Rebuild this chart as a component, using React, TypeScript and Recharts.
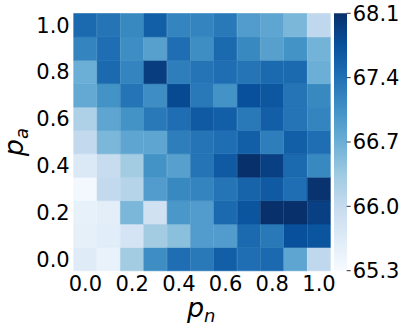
import { Bar, BarChart, Cell, Label, XAxis, YAxis } from "recharts";

// heatmap values, rows from p_a = 0.0 (bottom) up to p_a = 1.0 (top); columns p_n 0.0 .. 1.0
const pnLabels = ["0.0", "0.1", "0.2", "0.3", "0.4", "0.5", "0.6", "0.7", "0.8", "0.9", "1.0"];
const paLabels = ["0.0", "0.1", "0.2", "0.3", "0.4", "0.5", "0.6", "0.7", "0.8", "0.9", "1.0"];

const pa00 = [65.64, 65.50, 66.31, 67.09, 67.43, 67.32, 67.60, 67.43, 67.48, 66.81, 66.06];
const pa01 = [65.55, 65.61, 65.80, 66.31, 66.48, 66.92, 66.92, 67.48, 67.32, 67.76, 67.71];
const pa02 = [65.52, 65.58, 66.59, 65.86, 66.98, 66.92, 67.48, 67.71, 68.10, 68.10, 67.93];
const pa03 = [65.36, 66.03, 66.14, 66.92, 67.15, 67.20, 67.37, 67.54, 67.65, 67.43, 68.07];
const pa04 = [65.69, 65.97, 66.31, 67.04, 66.87, 67.37, 67.65, 68.10, 67.93, 67.48, 67.15];
const pa05 = [66.03, 66.59, 66.81, 66.81, 67.26, 67.37, 67.43, 67.60, 67.26, 67.60, 67.43];
const pa06 = [66.20, 66.81, 67.04, 67.32, 67.43, 67.65, 67.60, 67.32, 67.60, 67.37, 67.20];
const pa07 = [66.76, 67.04, 67.37, 67.09, 67.82, 67.32, 67.04, 67.76, 67.68, 67.37, 67.15];
const pa08 = [66.70, 67.48, 67.20, 67.96, 67.26, 67.37, 67.43, 67.37, 67.48, 67.48, 66.70];
const pa09 = [67.20, 67.43, 67.09, 66.87, 67.43, 67.09, 67.48, 67.15, 66.87, 67.04, 66.64];
const pa10 = [67.48, 67.37, 67.15, 67.60, 67.20, 67.20, 67.32, 66.92, 66.81, 66.59, 66.06];

const grid = [pa00, pa01, pa02, pa03, pa04, pa05, pa06, pa07, pa08, pa09, pa10];

const cbarTicks = [65.3, 66.0, 66.7, 67.4, 68.1];
const vmin = 65.3;
const vmax = 68.1;

// matplotlib "Blues"
const blues = ["#f7fbff", "#deebf7", "#c6dbef", "#9ecae1", "#6baed6", "#4292c6", "#2171b5", "#08519c", "#08306b"];

function hex(c: string) {
  return [1, 3, 5].map((i) => parseInt(c.slice(i, i + 2), 16));
}

function bluesColor(v: number) {
  let t = (v - vmin) / (vmax - vmin);
  t = Math.max(0, Math.min(1, t));
  const pos = t * (blues.length - 1);
  const i = Math.min(blues.length - 2, Math.floor(pos));
  const f = pos - i;
  const a = hex(blues[i]);
  const b = hex(blues[i + 1]);
  const rgb = a.map((x, k) => Math.round(x + (b[k] - x) * f));
  return `rgb(${rgb[0]},${rgb[1]},${rgb[2]})`;
}

const rowKeys = paLabels.map((_, r) => `r${r}`);
const data = pnLabels.map((pn) => {
  const row: Record<string, number | string> = { pn };
  rowKeys.forEach((k) => (row[k] = 1));
  return row;
});
const yTicks = paLabels.map((_, r) => r + 0.5).filter((_, r) => r % 2 === 0);

const font = "'DejaVu Sans', sans-serif";
const tickStyle = { fontSize: 21, fill: "#000", fontFamily: font };

function PnLabel({ viewBox }: any) {
  const cx = viewBox.x + viewBox.width / 2;
  return (
    <text x={cx - 1} y={317} textAnchor="middle" fontFamily={font} fontStyle="italic" fontSize={27} fill="#000">
      p<tspan fontSize={18} dy={5}>n</tspan>
    </text>
  );
}

function PaLabel({ viewBox }: any) {
  const cy = viewBox.y + viewBox.height / 2;
  const x = 23;
  return (
    <text
      x={x}
      y={cy}
      transform={`rotate(-90, ${x}, ${cy})`}
      textAnchor="middle"
      fontFamily={font}
      fontStyle="italic"
      fontSize={27}
      fill="#000"
    >
      p<tspan fontSize={18} dy={5}>a</tspan>
    </text>
  );
}

export default function App() {
  return (
    <div style={{ position: "absolute", left: 0, top: 0, width: 407, height: 331, background: "#fff" }}>
      <div style={{ position: "absolute", left: 0, top: 0 }}>
        <BarChart
          width={407}
          height={331}
          data={data}
          barCategoryGap={0}
          barGap={0}
          margin={{ top: 13.5, right: 76.3, bottom: 0, left: 0 }}
        >
          <XAxis
            dataKey="pn"
            interval={1}
            tickLine={false}
            axisLine={false}
            tickSize={0}
            tickMargin={5}
            tick={tickStyle}
            height={60.2}
          >
            <Label content={<PnLabel />} />
          </XAxis>
          <YAxis
            type="number"
            domain={[0, paLabels.length]}
            ticks={yTicks}
            tickFormatter={(t) => paLabels[Math.round(t - 0.5)]}
            tickLine={false}
            axisLine={false}
            tickSize={0}
            tickMargin={4}
            tick={tickStyle}
            width={73.7}
          >
            <Label content={<PaLabel />} />
          </YAxis>
          {rowKeys.map((k, r) => (
            <Bar key={k} dataKey={k} stackId="h" isAnimationActive={false}>
              {pnLabels.map((pn, c) => (
                <Cell key={pn} fill={bluesColor(grid[r][c])} stroke={bluesColor(grid[r][c])} strokeWidth={0.6} />
              ))}
            </Bar>
          ))}
        </BarChart>
      </div>
      <div style={{ position: "absolute", left: 0, top: 0 }}>
        <BarChart
          width={407}
          height={331}
          data={[{ name: "cb", range: [vmin, vmax] }]}
          barCategoryGap={0}
          margin={{ top: 13.3, right: 0, bottom: 60.3, left: 334 }}
        >
          <defs>
            <linearGradient id="cbar" x1="0" y1="1" x2="0" y2="0">
              {blues.map((c, i) => (
                <stop key={c} offset={`${(i / (blues.length - 1)) * 100}%`} stopColor={c} />
              ))}
            </linearGradient>
          </defs>
          <XAxis dataKey="name" hide />
          <YAxis
            orientation="right"
            type="number"
            domain={[vmin, vmax]}
            ticks={cbarTicks}
            tickFormatter={(t) => t.toFixed(1)}
            axisLine={false}
            tickLine={{ stroke: "#333", strokeWidth: 1 }}
            tickSize={4}
            tickMargin={2}
            tick={tickStyle}
            width={60.3}
          />
          <Bar dataKey="range" fill="url(#cbar)" isAnimationActive={false} />
        </BarChart>
      </div>
    </div>
  );
}
